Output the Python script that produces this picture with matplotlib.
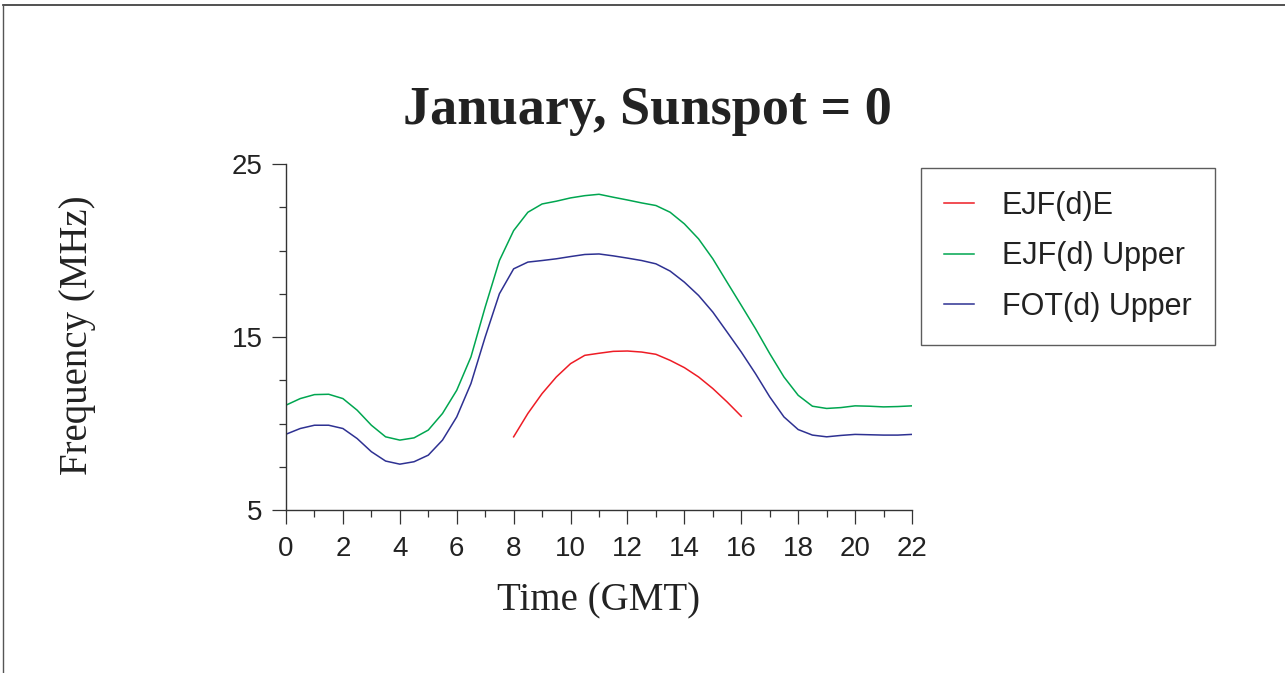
import numpy as np
import matplotlib.pyplot as plt
from matplotlib.lines import Line2D

# hours (GMT), read every half hour
hours = np.arange(0, 22.5, 0.5)
ejf_upper = [11.06, 11.44, 11.67, 11.69, 11.44, 10.77, 9.9, 9.23, 9.04, 9.17,
             9.62, 10.58, 11.92, 13.85, 16.73, 19.42, 21.15, 22.21, 22.69, 22.85,
             23.04, 23.17, 23.25, 23.08, 22.92, 22.75, 22.6, 22.21, 21.54, 20.67,
             19.52, 18.17, 16.83, 15.48, 14.04, 12.69, 11.63, 11.0, 10.87, 10.92,
             11.02, 11.0, 10.96, 10.98, 11.02]
fot_upper = [9.38, 9.71, 9.9, 9.9, 9.71, 9.13, 8.37, 7.83, 7.65, 7.79,
             8.17, 9.04, 10.38, 12.31, 15.0, 17.5, 18.94, 19.33, 19.42, 19.52,
             19.65, 19.77, 19.8, 19.69, 19.56, 19.42, 19.23, 18.81, 18.17, 17.4,
             16.44, 15.29, 14.13, 12.88, 11.54, 10.38, 9.65, 9.33, 9.23, 9.31,
             9.37, 9.35, 9.33, 9.33, 9.37]
hours_e = np.arange(8, 16.5, 0.5)
ejf_e = [9.23, 10.58, 11.73, 12.69, 13.46, 13.94, 14.06, 14.17, 14.19, 14.13,
         14.0, 13.65, 13.23, 12.69, 12.02, 11.25, 10.42]

fig = plt.figure(figsize=(12.85, 6.73), dpi=100)
ax = fig.add_axes([286/1285, 1-510/673, (912-286)/1285, (510-164)/673])

ax.plot(hours_e, ejf_e, color='#ee1c25', lw=1.1, label='EJF(d)E')
ax.plot(hours, ejf_upper, color='#00a650', lw=1.1, label='EJF(d) Upper')
ax.plot(hours, fot_upper, color='#2e3192', lw=1.1, label='FOT(d) Upper')

ax.set_xlim(0, 22)
ax.set_ylim(5, 25)
ax.set_xticks(range(0, 23, 2))
ax.set_xticks(range(0, 23), minor=True)
ax.set_yticks([5, 15, 25])
ax.set_yticks(np.arange(5, 25.1, 2.5), minor=True)

for s in ['top', 'right']:
    ax.spines[s].set_visible(False)
for s in ['left', 'bottom']:
    ax.spines[s].set_color('#333333')
    ax.spines[s].set_linewidth(1.0)

ax.tick_params(which='major', direction='out', length=10, width=0.9, color='#333333')
ax.tick_params(which='minor', direction='out', length=5, width=0.9, color='#333333')
ax.tick_params(axis='x', which='major', pad=9)
ax.tick_params(axis='y', which='major', pad=7)
for lab in ax.get_xticklabels() + ax.get_yticklabels():
    lab.set_fontfamily('Liberation Sans')
    lab.set_fontsize(20)
    lab.set_color('#222222')

fig.text(647/1285, 1-111/673, 'January, Sunspot = 0', ha='center', va='center',
         fontfamily='Liberation Serif', fontweight='bold', fontsize=39, color='#222222')
fig.text(78/1285, 1-335/673, 'Frequency (MHz)', ha='center', va='center', rotation=90,
         fontfamily='Liberation Serif', fontsize=28, color='#222222')
fig.text(599/1285, 1-601/673, 'Time (GMT)', ha='center', va='center',
         fontfamily='Liberation Serif', fontsize=28, color='#222222')

leg = ax.legend(loc='upper left', bbox_to_anchor=(921/1285, 1-168/673),
                bbox_transform=fig.transFigure, prop={'family': 'Liberation Sans', 'size': 22},
                frameon=True, fancybox=False, handlelength=1.0, handletextpad=0.9,
                labelspacing=0.67, borderpad=0.75, borderaxespad=0)
leg.get_frame().set_edgecolor('#333333')
leg.get_frame().set_linewidth(1.0)
for t in leg.get_texts():
    t.set_color('#222222')

# figure border (top and left)
fig.add_artist(Line2D([3/1285, 1], [1-5/673, 1-5/673], transform=fig.transFigure,
                      color='#333333', lw=1.2))
fig.add_artist(Line2D([3/1285, 3/1285], [0, 1-5/673], transform=fig.transFigure,
                      color='#555555', lw=1.0))

fig.savefig('out.png', dpi=100)
